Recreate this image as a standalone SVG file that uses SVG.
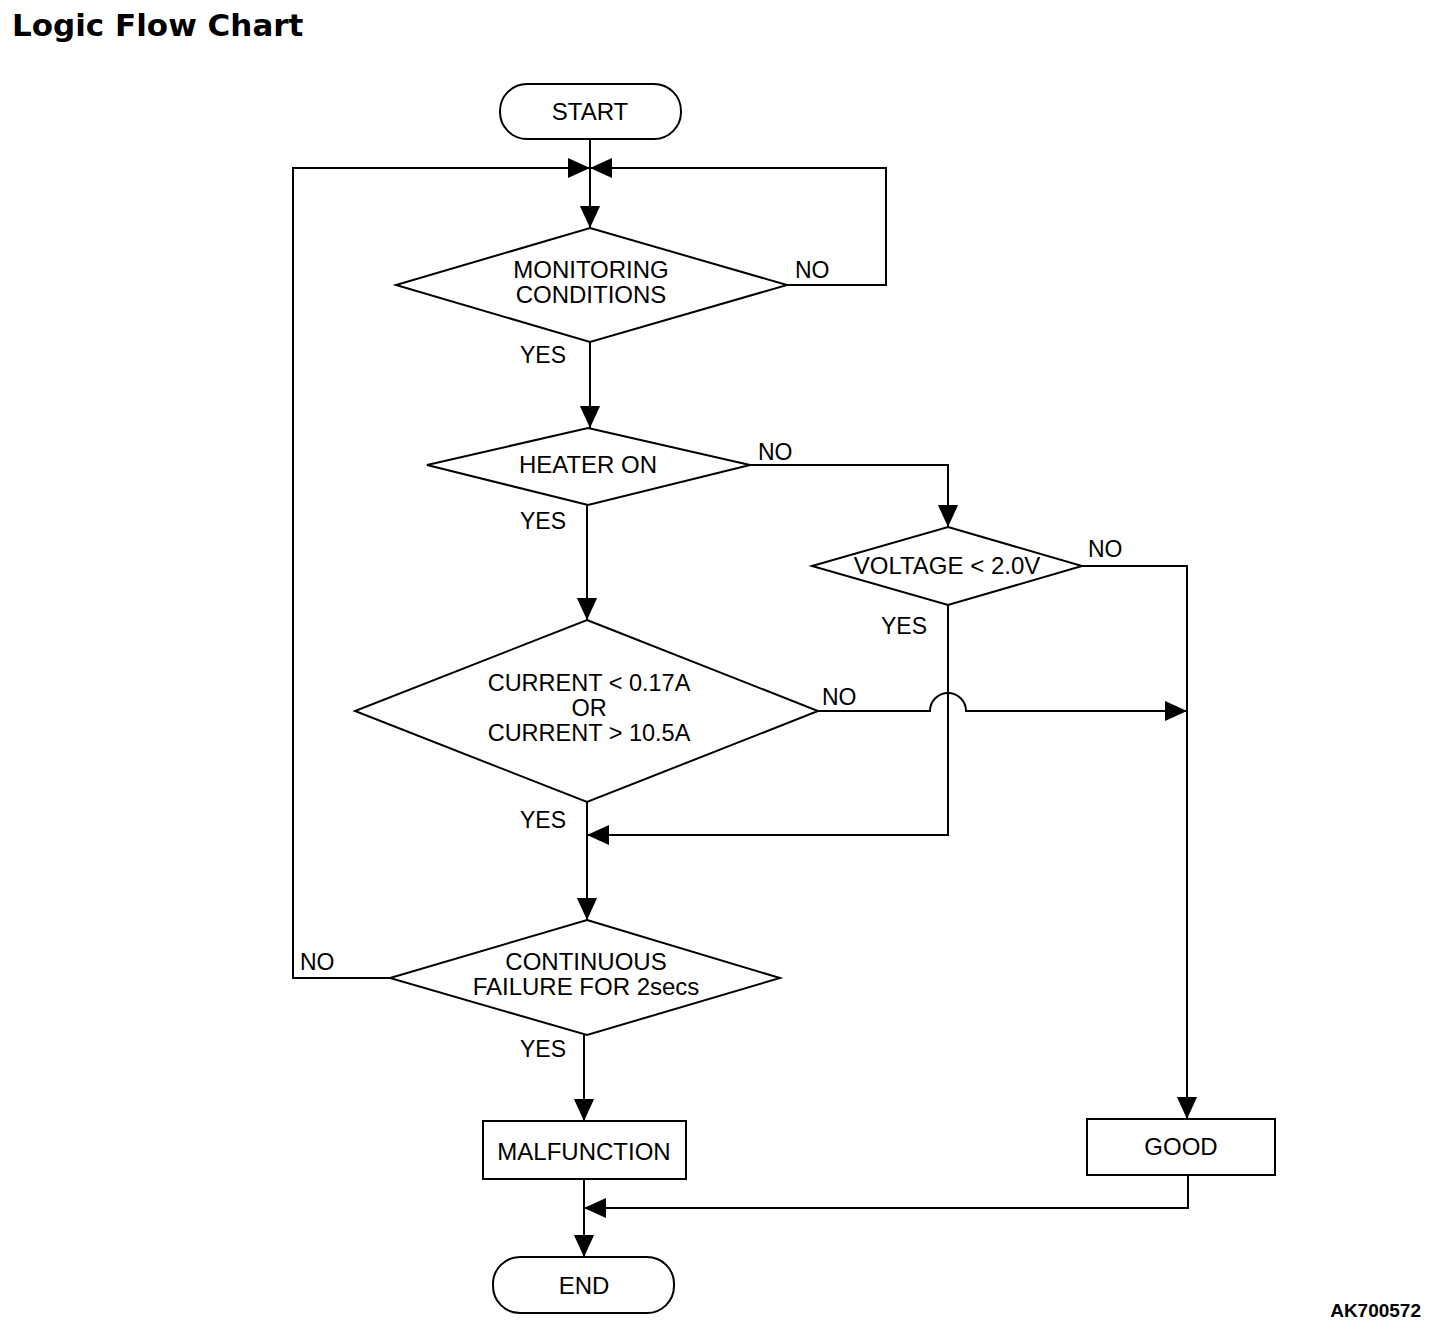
<svg xmlns="http://www.w3.org/2000/svg" width="1456" height="1330" viewBox="0 0 1456 1330">
<style>
text{font-family:"Liberation Sans",Arial,sans-serif;fill:#000}
.n{font-size:24px;text-anchor:middle}
.l{font-size:23px}
.s{fill:#fff;stroke:#000;stroke-width:2}
.c{fill:none;stroke:#000;stroke-width:2}
</style>
<defs>
<marker id="ah" viewBox="0 0 12 12" refX="12" refY="6" markerWidth="22" markerHeight="22" markerUnits="userSpaceOnUse" orient="auto">
<path d="M0 0.5 L12 6 L0 11.5 Z" fill="#000"/>
</marker>
</defs>
<rect width="1456" height="1330" fill="#fff"/>
<text x="12" y="36" style="font-family:'DejaVu Sans',sans-serif;font-size:31px;font-weight:bold">Logic Flow Chart</text>
<text x="1421" y="1317" style="font-size:19px;font-weight:bold;text-anchor:end">AK700572</text>

<g id="connectors">
<path class="c" d="M590 139 V228" marker-end="url(#ah)"/>
<path class="c" d="M390 978 H293 V168 H590" marker-end="url(#ah)"/>
<path class="c" d="M787 285 H886 V168 H590" marker-end="url(#ah)"/>
<path class="c" d="M590 342 V428" marker-end="url(#ah)"/>
<path class="c" d="M750 465 H948 V527" marker-end="url(#ah)"/>
<path class="c" d="M587 505 V620" marker-end="url(#ah)"/>
<path class="c" d="M1082 566 H1187 V1119" marker-end="url(#ah)"/>
<path class="c" d="M948 605 V835 H587" marker-end="url(#ah)"/>
<path class="c" d="M818 711 H930 A18 18 0 0 1 966 711 H1187" marker-end="url(#ah)"/>
<path class="c" d="M587 802 V920" marker-end="url(#ah)"/>
<path class="c" d="M584 1035 V1121" marker-end="url(#ah)"/>
<path class="c" d="M1188 1175 V1208 H584" marker-end="url(#ah)"/>
<path class="c" d="M584 1179 V1257" marker-end="url(#ah)"/>
</g>

<g id="labels">
<text class="l" x="795" y="278">NO</text>
<text class="l" x="520" y="363">YES</text>
<text class="l" x="758" y="460">NO</text>
<text class="l" x="520" y="529">YES</text>
<text class="l" x="1088" y="557">NO</text>
<text class="l" x="881" y="634">YES</text>
<text class="l" x="822" y="705">NO</text>
<text class="l" x="520" y="828">YES</text>
<text class="l" x="300" y="970">NO</text>
<text class="l" x="520" y="1057">YES</text>
</g>

<g id="start">
<rect class="s" x="500" y="84" width="181" height="55" rx="27" ry="27"/>
<text class="n" x="590" y="120">START</text>
</g>
<g id="monitoring">
<path class="s" d="M590 228 L787 285 L590 342 L396 285 Z"/>
<text class="n" x="591" y="278">MONITORING</text>
<text class="n" x="591" y="303">CONDITIONS</text>
</g>
<g id="heater">
<path class="s" d="M588 428 L750 465 L588 505 L427 465 Z"/>
<text class="n" x="588" y="473">HEATER ON</text>
</g>
<g id="voltage">
<path class="s" d="M948 527 L1082 566 L948 605 L812 566 Z"/>
<text class="n" x="947" y="574">VOLTAGE &lt; 2.0V</text>
</g>
<g id="current">
<path class="s" d="M587 620 L818 711 L587 802 L355 711 Z"/>
<text class="n" x="589" y="691" style="font-size:23.5px">CURRENT &lt; 0.17A</text>
<text class="n" x="589" y="716" style="font-size:23.5px">OR</text>
<text class="n" x="589" y="741" style="font-size:23.5px">CURRENT &gt; 10.5A</text>
</g>
<g id="continuous">
<path class="s" d="M587 920 L780 978 L587 1035 L390 978 Z"/>
<text class="n" x="586" y="970">CONTINUOUS</text>
<text class="n" x="586" y="995">FAILURE FOR 2secs</text>
</g>
<g id="malfunction">
<rect class="s" x="483" y="1121" width="203" height="58"/>
<text class="n" x="584" y="1160">MALFUNCTION</text>
</g>
<g id="good">
<rect class="s" x="1087" y="1119" width="188" height="56"/>
<text class="n" x="1181" y="1155">GOOD</text>
</g>
<g id="end">
<rect class="s" x="493" y="1257" width="181" height="56" rx="27" ry="27"/>
<text class="n" x="584" y="1294">END</text>
</g>
</svg>
